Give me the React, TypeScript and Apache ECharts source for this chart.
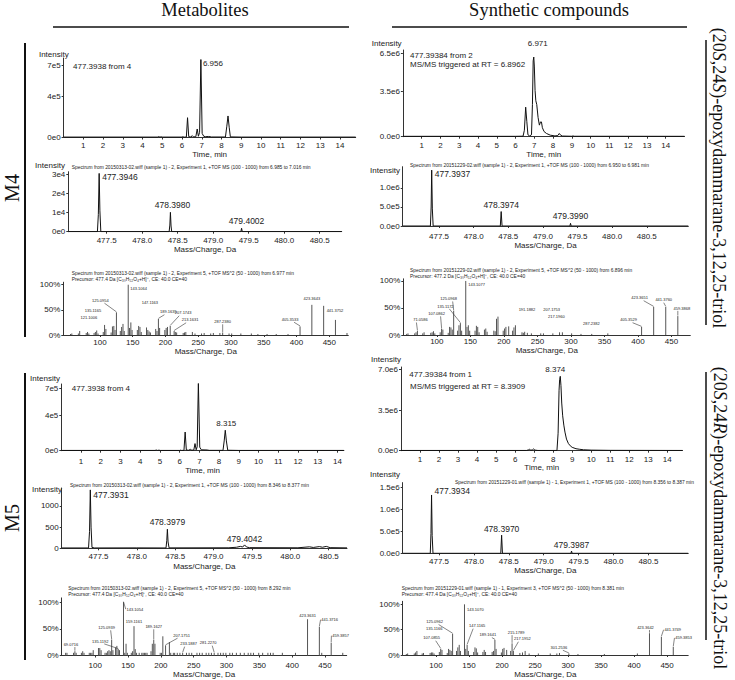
import React, { useEffect, useRef } from "react";
import * as echarts from "echarts";

const SANS = "'Liberation Sans', Arial, sans-serif";
const SERIF = "'Liberation Serif', 'Times New Roman', serif";

// ---------------- tick values / labels ----------------
const timeTicks = [1, 2, 3, 4, 5, 6, 7, 8, 9, 10, 11, 12, 13, 14];
const massTicks = [477.5, 478.0, 478.5, 479.0, 479.5, 480.0, 480.5];
const ms2Ticks = [100, 150, 200, 250, 300, 350, 400, 450];

const yTicksXicM4Met = [0, 4e5, 7e5];
const yLabelsXicM4Met = ["0e0", "4e5", "7e5"];
const yTicksXicM4Syn = [0, 3.5e6, 6.5e6];
const yLabelsXicM4Syn = ["0.0e0", "3.5e6", "6.5e6"];
const yTicksMs1M4Met = [0, 1e4, 2e4, 3e4];
const yLabelsMs1M4Met = ["0e0", "1e4", "2e4", "3e4"];
const yTicksMs1M4Syn = [0, 5e5, 1e6];
const yLabelsMs1M4Syn = ["0.0e0", "5.0e5", "1.0e6"];
const yTicksPct = [0, 50, 100];
const yLabelsPct = ["0%", "50%", "100%"];
const yTicksXicM5Met = [0, 4e5, 7e5];
const yLabelsXicM5Met = ["0e0", "4e5", "7e5"];
const yTicksXicM5Syn = [0, 3.5e6, 7e6];
const yLabelsXicM5Syn = ["0.0e0", "3.5e6", "7.0e6"];
const yTicksMs1M5Met = [0, 500, 1000];
const yLabelsMs1M5Met = ["0", "500", "1000"];
const yTicksMs1M5Syn = [0, 5e5, 1e6, 1.5e6];
const yLabelsMs1M5Syn = ["0.0e0", "5.0e5", "1.0e6", "1.5e6"];

// ---------------- extracted ion chromatograms [time, intensity] ----------------
const xicM4Metabolite = [
  [0, 4000], [4.75, 4000], [4.82, 9000], [4.88, 4000], [4.95, 7000], [5.02, 4000], [6.0, 4000], [6.05, 8000],
  [6.1, 3000], [6.22, 5000], [6.28, 193000], [6.34, 8000], [6.45, 5000], [6.52, 18000], [6.58, 6000], [6.7, 8000],
  [6.77, 83000], [6.83, 12000], [6.89, 50000], [6.956, 760000], [7.02, 40000], [7.1, 12000], [7.2, 8000],
  [7.35, 10000], [7.5, 5000], [8.2, 5000], [8.27, 110000], [8.33, 210000], [8.39, 100000], [8.45, 6000],
  [9, 4000], [14.8, 4000],
];
const xicM4MetaboliteLabels = [6.956];

const xicM4Synthetic = [
  [0, 30000], [6.0, 30000], [6.4, 40000], [6.47, 500000], [6.54, 2300000], [6.6, 1200000], [6.66, 150000],
  [6.75, 60000], [6.85, 150000], [6.9, 2500000], [6.94, 5900000], [6.971, 6200000], [7.0, 5500000],
  [7.04, 3600000], [7.08, 2800000], [7.13, 2500000], [7.2, 1500000], [7.27, 900000], [7.33, 1150000],
  [7.38, 1150000], [7.43, 700000], [7.52, 400000], [7.65, 250000], [7.85, 120000], [8.1, 60000], [8.25, 90000],
  [8.33, 250000], [8.4, 120000], [8.5, 50000], [9.0, 35000], [9.06, 60000], [9.12, 35000], [15, 30000],
];
const xicM4SyntheticLabels = [6.971];

const xicM5Metabolite = [
  [0, 3000], [4.75, 3000], [4.82, 7000], [4.88, 3000], [4.95, 6000], [5.02, 3000], [6.0, 3000], [6.05, 6000],
  [6.1, 3000], [6.22, 4000], [6.28, 210000], [6.34, 8000], [6.45, 5000], [6.55, 15000], [6.62, 5000],
  [6.72, 8000], [6.78, 80000], [6.84, 10000], [6.89, 45000], [6.95, 765000], [7.02, 40000], [7.1, 10000],
  [7.4, 8000], [7.5, 4000], [8.2, 4000], [8.26, 110000], [8.315, 230000], [8.37, 110000], [8.44, 5000],
  [9, 3000], [14.33, 3000],
];
const xicM5MetaboliteLabels = [8.315];

const xicM5Synthetic = [
  [0, 20000], [6.6, 20000], [6.7, 70000], [6.76, 120000], [6.82, 50000], [6.9, 60000], [6.97, 150000],
  [7.04, 50000], [7.2, 20000], [8.2, 20000], [8.26, 1500000], [8.31, 5200000], [8.34, 6100000],
  [8.374, 6400000], [8.41, 5600000], [8.45, 4100000], [8.5, 3000000], [8.56, 2200000], [8.62, 1600000],
  [8.7, 1000000], [8.8, 620000], [8.9, 420000], [9.0, 290000], [9.2, 170000], [9.4, 120000], [9.6, 80000],
  [10, 50000], [11, 30000], [14.8, 20000],
];
const xicM5SyntheticLabels = [8.374];

// ---------------- MS1 spectra [m/z, intensity] ----------------
const ms1M4Metabolite = [
  [476.96, 0], [477.37, 0], [477.383, 9000], [477.3946, 30700], [477.405, 11000], [477.418, 0], [478.38, 0],
  [478.39, 3500], [478.398, 10200], [478.407, 3000], [478.416, 0], [479.39, 0], [479.4002, 1800], [479.41, 0],
  [480.81, 0],
];
const ms1M4MetaboliteLabels = [477.3946, 478.398, 479.4002];

const ms1M4Synthetic = [
  [476.975, 0], [477.375, 0], [477.386, 500000], [477.3937, 1470000], [477.403, 450000], [477.415, 0],
  [478.385, 0], [478.3974, 380000], [478.41, 0], [479.39, 0], [479.399, 70000], [479.408, 0], [481.1, 0],
];
const ms1M4SyntheticLabels = [477.3937, 478.3974, 479.399];

const ms1M5Metabolite = [
  [477.02, 8], [477.37, 8], [477.383, 400], [477.3931, 1380], [477.403, 500], [477.415, 20], [477.45, 8],
  [478.0, 10], [478.38, 8], [478.39, 180], [478.3979, 450], [478.407, 150], [478.42, 10], [479.2, 12],
  [479.3, 25], [479.35, 45], [479.38, 30], [479.4042, 80], [479.43, 30], [479.47, 15], [480.1, 12],
  [480.25, 35], [480.3, 20], [480.38, 40], [480.42, 25], [480.47, 45], [480.52, 15], [480.74, 10],
];
const ms1M5MetaboliteLabels = [477.3931, 478.3979, 479.4042];

const ms1M5Synthetic = [
  [476.98, 0], [477.375, 0], [477.385, 450000], [477.3934, 1320000], [477.402, 400000], [477.414, 0],
  [478.385, 0], [478.397, 410000], [478.409, 0], [479.39, 0], [479.3987, 50000], [479.407, 0], [481.07, 0],
];
const ms1M5SyntheticLabels = [477.3934, 478.397, 479.3987];

// ---------------- MS/MS spectra [m/z, relative %] ----------------
const ms2M4Metabolite = [
  [55, 2], [57, 3], [67, 3], [69, 8], [79, 4], [81, 6], [83, 3], [91, 4], [93, 6], [95, 9], [97, 3], [105, 6],
  [107, 20], [109, 12], [117, 5], [119, 17], [121.1006, 18], [123, 10], [125.0954, 45], [131, 8], [133, 16],
  [135.1165, 22], [137, 8], [143.1064, 100], [145, 14], [147.1163, 25], [149, 10], [157, 10], [159, 18],
  [161, 16], [163, 6], [171, 15], [173, 10], [175, 7], [177, 5], [185, 12], [187, 8], [189.1635, 32], [191, 14],
  [199, 10], [201, 14], [203, 16], [207.1743, 18], [213.1631, 8], [215, 6], [217, 5], [227, 4], [229, 5],
  [231, 6], [241, 6], [245, 3], [255, 3], [259, 4], [269, 3], [273, 4], [283, 4], [287.238, 5], [297, 3],
  [301, 3], [315, 3], [331, 3], [341, 2], [355, 2], [369, 2], [387, 2], [405.3533, 17], [423.3643, 60],
  [441.3752, 58], [459.3857, 30], [477, 4],
];
const ms2M4MetaboliteLabels = [
  143.1064, 125.0954, 135.1165, 121.1006, 147.1163, 189.1635, 207.1743, 213.1631, 287.238, 405.3533, 423.3643,
  441.3752,
];

const ms2M4Synthetic = [
  [55, 2], [57, 3], [67, 3], [69, 5], [71.0586, 8], [79, 3], [81, 5], [91, 4], [93, 5], [95, 7], [97, 3],
  [105, 5], [107.0862, 12], [109, 10], [117, 4], [119, 15], [121, 14], [123, 10], [125.0968, 45], [131, 8],
  [133, 18], [135.1172, 22], [137, 8], [143.1077, 100], [145, 15], [147, 18], [149, 8], [157, 8], [159, 17],
  [161, 15], [163, 5], [171, 10], [173, 12], [175, 6], [185, 8], [187, 7], [189, 30], [191.1882, 34], [199, 8],
  [201, 12], [203, 15], [207.1753, 16], [213, 8], [215, 14], [217.196, 18], [227, 5], [229, 4], [231, 6],
  [235, 4], [241, 3], [255, 3], [259, 3], [273, 3], [283, 5], [287.2382, 5], [301, 3], [315, 2], [331, 2],
  [355, 3], [405.3529, 15], [423.3651, 52], [441.376, 52], [459.3868, 35],
];
const ms2M4SyntheticLabels = [
  143.1077, 125.0968, 135.1172, 107.0862, 71.0586, 191.1882, 207.1753, 217.196, 287.2382, 405.3529, 423.3651,
  441.376, 459.3868,
];

const ms2M5Metabolite = [
  [55, 5], [57, 5], [67, 5], [69.0716, 8], [71, 5], [79, 5], [81, 8], [83, 5], [91, 5], [93, 5], [95, 5],
  [97, 10], [105, 14], [107, 14], [109, 10], [115, 5], [117, 5], [119, 8], [121, 10], [123, 8],
  [125.0939, 30], [127, 10], [131, 15], [133, 18], [135.1192, 12], [137, 10], [143.1054, 100], [145, 5],
  [147, 22], [149, 5], [155, 5], [157, 8], [159.1161, 55], [161, 12], [163, 5], [167, 5], [171, 5], [173, 5],
  [175, 5], [177, 5], [179, 5], [185, 8], [187, 22], [189.1627, 30], [191, 22], [199, 5], [201, 5], [203, 36],
  [207.1751, 19], [213, 25], [215, 5], [219, 5], [221, 5], [225, 5], [229, 5], [233.1887, 5], [239, 5],
  [243, 5], [247, 5], [255, 5], [259, 5], [263, 5], [269, 5], [273, 5], [277, 5], [281.227, 5], [287, 5],
  [291, 5], [295, 5], [299, 5], [305, 5], [309, 5], [315, 5], [321, 5], [327, 5], [333, 5], [337, 5],
  [341, 5], [349, 5], [355, 5], [363, 5], [367, 5], [371, 5], [385, 5], [405, 5], [423.3631, 68],
  [441.3716, 54], [445, 5], [459.3857, 24], [477, 5],
];
const ms2M5MetaboliteLabels = [
  143.1054, 159.1161, 189.1627, 125.0939, 135.1192, 69.0716, 207.1751, 233.1887, 281.227, 423.3631, 441.3716,
  459.3857,
];

const ms2M5Synthetic = [
  [55, 2], [57, 3], [67, 3], [69, 5], [71, 8], [79, 3], [81, 4], [91, 4], [93, 5], [95, 5], [97, 3], [105, 6],
  [107.0855, 12], [109, 10], [117, 4], [119, 12], [121, 10], [123, 8], [125.0962, 42], [131, 8], [133, 15],
  [135.1166, 20], [137, 8], [143.107, 100], [145, 12], [147.1165, 20], [149, 8], [157, 6], [159, 15],
  [161, 13], [163, 5], [171, 6], [173, 10], [175, 6], [185, 6], [187, 8], [189.1641, 30], [191, 12], [199, 5],
  [201, 12], [203, 14], [207, 10], [213, 8], [215.1789, 23], [217.1952, 8], [227, 4], [231, 5], [235, 8],
  [241, 3], [255, 3], [273, 3], [283, 3], [287, 4], [301.2536, 3], [315, 2], [355, 2], [405, 3],
  [423.3642, 43], [441.3749, 36], [459.3853, 16],
];
const ms2M5SyntheticLabels = [
  143.107, 125.0962, 135.1166, 107.0855, 147.1165, 189.1641, 215.1789, 217.1952, 301.2536, 423.3642, 441.3749,
  459.3853,
];

// ---------------- layout (positions / styles only) ----------------
type LL = [number, number, string?];
type Panel = {
  box: [number, number, number, number];
  x: [number, number];
  yMax: number;
  xTicks: number[];
  xFmt: (v: number) => string;
  yTicks: number[];
  yLabels: string[];
  xName: string;
  xMargin: number;
  nameGap: number;
  line?: number[][];
  sticks?: number[][];
  labels: number[];
  labelDigits: number;
  labelLayout: LL[];
  labelSize: number;
  leader: boolean;
};

const fmtInt = (v: number) => String(Math.round(v));
const fmtMass = (v: number) => v.toFixed(1);

const panels: Panel[] = [
  {
    box: [63.6, 58, 292.1, 79.5], x: [0, 14.8], yMax: 7.75e5, xTicks: timeTicks, xFmt: fmtInt,
    yTicks: yTicksXicM4Met, yLabels: yLabelsXicM4Met, xName: "Time, min", xMargin: 4, nameGap: 13,
    line: xicM4Metabolite, labels: xicM4MetaboliteLabels, labelDigits: 3, labelLayout: [[2, 4, "left"]],
    labelSize: 8, leader: false,
  },
  {
    box: [402.9, 50, 281.6, 86.7], x: [0, 15], yMax: 6.75e6, xTicks: timeTicks, xFmt: fmtInt,
    yTicks: yTicksXicM4Syn, yLabels: yLabelsXicM4Syn, xName: "Time, min", xMargin: 5, nameGap: 10,
    line: xicM4Synthetic, labels: xicM4SyntheticLabels, labelDigits: 3, labelLayout: [[4, -14]],
    labelSize: 8, leader: false,
  },
  {
    box: [68.3, 171.7, 273.4, 60], x: [476.96, 480.81], yMax: 3.16e4, xTicks: massTicks, xFmt: fmtMass,
    yTicks: yTicksMs1M4Met, yLabels: yLabelsMs1M4Met, xName: "Mass/Charge, Da", xMargin: 5, nameGap: 14,
    line: ms1M4Metabolite, labels: ms1M4MetaboliteLabels, labelDigits: 4,
    labelLayout: [[3, 4, "left"], [2, -7], [5, -7]], labelSize: 8.5, leader: false,
  },
  {
    box: [402.7, 166.7, 285.6, 59.3], x: [476.975, 481.1], yMax: 1.56e6, xTicks: massTicks, xFmt: fmtMass,
    yTicks: yTicksMs1M4Syn, yLabels: yLabelsMs1M4Syn, xName: "Mass/Charge, Da", xMargin: 6.5, nameGap: 14,
    line: ms1M4Synthetic, labels: ms1M4SyntheticLabels, labelDigits: 4,
    labelLayout: [[3, 4, "left"], [0, -7], [0, -7]], labelSize: 8.5, leader: false,
  },
  {
    box: [63.3, 282.2, 285, 52.8], x: [44, 479], yMax: 105, xTicks: ms2Ticks, xFmt: fmtInt,
    yTicks: yTicksPct, yLabels: yLabelsPct, xName: "Mass/Charge, Da", xMargin: 3.3, nameGap: 12,
    sticks: ms2M4Metabolite, labels: ms2M4MetaboliteLabels, labelDigits: 4,
    labelLayout: [
      [2, 4, "left"], [-16, -12], [-30, -13], [-25, -8], [19, -20], [10, -7], [13, -13], [16, -11], [0, -11],
      [-10, -7], [0, -6], [3, 5, "left"],
    ],
    labelSize: 4, leader: true,
  },
  {
    box: [403.3, 278.8, 287, 56.2], x: [50, 478], yMax: 104, xTicks: ms2Ticks, xFmt: fmtInt,
    yTicks: yTicksPct, yLabels: yLabelsPct, xName: "Mass/Charge, Da", xMargin: 2.7, nameGap: 11,
    sticks: ms2M4Synthetic, labels: ms2M4SyntheticLabels, labelDigits: 4,
    labelLayout: [
      [2.6, 4, "left"], [-5, -12], [-15, -17], [-5, -15], [3, -11], [29, -7], [43, -17], [41, -9], [29, -9],
      [-13, -7], [-14, -9], [-2, -7], [4, -8],
    ],
    labelSize: 4, leader: true,
  },
  {
    box: [61.3, 384, 282.6, 66.7], x: [0, 14.33], yMax: 7.5e5, xTicks: timeTicks, xFmt: fmtInt,
    yTicks: yTicksXicM5Met, yLabels: yLabelsXicM5Met, xName: "Time, min", xMargin: 7, nameGap: 11,
    line: xicM5Metabolite, labels: xicM5MetaboliteLabels, labelDigits: 3, labelLayout: [[1, -7]],
    labelSize: 8, leader: false,
  },
  {
    box: [401, 367, 281.5, 83.7], x: [0, 14.8], yMax: 7.2e6, xTicks: timeTicks, xFmt: fmtInt,
    yTicks: yTicksXicM5Syn, yLabels: yLabelsXicM5Syn, xName: "Time, min", xMargin: 4.3, nameGap: 10,
    line: xicM5Synthetic, labels: xicM5SyntheticLabels, labelDigits: 3, labelLayout: [[-5, -7]],
    labelSize: 8, leader: false,
  },
  {
    box: [61.7, 488, 285.3, 60.3], x: [477.02, 480.74], yMax: 1425, xTicks: massTicks, xFmt: fmtMass,
    yTicks: yTicksMs1M5Met, yLabels: yLabelsMs1M5Met, xName: "Mass/Charge, Da", xMargin: 4.4, nameGap: 14,
    line: ms1M5Metabolite, labels: ms1M5MetaboliteLabels, labelDigits: 4,
    labelLayout: [[3, 5, "left"], [0, -7], [0, -6]], labelSize: 8.5, leader: false,
  },
  {
    box: [402.7, 482.6, 285.5, 70.7], x: [476.98, 481.07], yMax: 1.6e6, xTicks: massTicks, xFmt: fmtMass,
    yTicks: yTicksMs1M5Syn, yLabels: yLabelsMs1M5Syn, xName: "Mass/Charge, Da", xMargin: 4.4, nameGap: 13,
    line: ms1M5Synthetic, labels: ms1M5SyntheticLabels, labelDigits: 4,
    labelLayout: [[3, -4, "left"], [0, -6], [0, -6]], labelSize: 8.5, leader: false,
  },
  {
    box: [61.7, 597.9, 285, 57.6], x: [49, 483], yMax: 108, xTicks: ms2Ticks, xFmt: fmtInt,
    yTicks: yTicksPct, yLabels: yLabelsPct, xName: "Mass/Charge, Da", xMargin: 5.5, nameGap: 15,
    sticks: ms2M5Metabolite, labels: ms2M5MetaboliteLabels, labelDigits: 4,
    labelLayout: [
      [3, 7, "left"], [0, -5], [0, -13], [-5, -12], [-18, -8], [-4, -7], [16, -10], [6, -9], [-6, -10],
      [0, -4], [2, -7, "left"], [1, -7, "left"],
    ],
    labelSize: 4, leader: true,
  },
  {
    box: [402.7, 601.3, 285.5, 53.7], x: [49.5, 482], yMax: 106, xTicks: ms2Ticks, xFmt: fmtInt,
    yTicks: yTicksPct, yLabels: yLabelsPct, xName: "Mass/Charge, Da", xMargin: 6, nameGap: 15.5,
    sticks: ms2M5Synthetic, labels: ms2M5SyntheticLabels, labelDigits: 4,
    labelLayout: [
      [2.5, 5, "left"], [-18, -12], [-25, -16], [-9, -11], [10, -19], [-7, -5], [4, -11], [9, -12], [-10, -6],
      [-4, -6], [3, -7, "left"], [2, -9, "left"],
    ],
    labelSize: 4, leader: true,
  },
];

const spectrumHeaders: { lines: string[]; x: number; y: number }[] = [
  { lines: ["Spectrum from 20150313-02.wiff (sample 1) - 2, Experiment 1, +TOF MS (100 - 1000) from 6.985 to 7.016 min"], x: 71.7, y: 167.3 },
  { lines: ["Spectrum from 20151229-02.wiff (sample 1) - 2, Experiment 1, +TOF MS (100 - 1000) from 6.950 to 6.981 min"], x: 410, y: 165 },
  { lines: ["Spectrum from 20150313-02.wiff (sample 1) - 2, Experiment 5, +TOF MS^2 (50 - 1000) from 6.977 min", "Precursor: 477.4 Da [C₃₀H₅₂O₄+H]⁺, CE: 40.0 CE=40"], x: 71.7, y: 273.3 },
  { lines: ["Spectrum from 20151229-02.wiff (sample 1) - 2, Experiment 5, +TOF MS^2 (50 - 1000) from 6.896 min", "Precursor: 477.2 Da [C₃₀H₅₂O₄+H]⁺, CE: 40.0 CE=40"], x: 410, y: 270.7 },
  { lines: ["Spectrum from 20150313-02.wiff (sample 1) - 2, Experiment 1, +TOF MS (100 - 1000) from 8.346 to 8.377 min"], x: 70, y: 485 },
  { lines: ["Spectrum from 20151229-01.wiff (sample 1) - 1, Experiment 1, +TOF MS (100 - 1000) from 8.356 to 8.387 min"], x: 455, y: 482.7 },
  { lines: ["Spectrum from 20150313-02.wiff (sample 1) - 2, Experiment 5, +TOF MS^2 (50 - 1000) from 8.292 min", "Precursor: 477.4 Da [C₃₀H₅₂O₄+H]⁺, CE: 40.0 CE=40"], x: 68.3, y: 588.3 },
  { lines: ["Spectrum from 20151229-01.wiff (sample 1) - 1, Experiment 3, +TOF MS^2 (50 - 1000) from 8.381 min", "Precursor: 477.4 Da [C₃₀H₅₂O₄+H]⁺, CE: 40.0 CE=40"], x: 401.7, y: 588.3 },
];

const annotations: { text: string; x: number; y: number }[] = [
  { text: "477.3938 from 4", x: 73, y: 66 },
  { text: "477.39384 from 2", x: 410, y: 55 },
  { text: "MS/MS triggered at RT = 6.8962", x: 410, y: 64.5 },
  { text: "477.3938 from 4", x: 71.7, y: 388.3 },
  { text: "477.39384 from 1", x: 409.3, y: 374.3 },
  { text: "MS/MS triggered at RT = 8.3909", x: 410, y: 386.7 },
];

const intensityTitles: [number, number][] = [
  [53.8, 54], [386.7, 43.3], [50, 165.7], [385, 170], [45, 378.3], [386, 359.3], [47, 489], [385, 474.3],
];

function nearest(arr: number[][], v: number) {
  let best = arr[0];
  for (const p of arr) if (Math.abs(p[0] - v) < Math.abs(best[0] - v)) best = p;
  return best;
}

function tt(text: string, x: number, y: number, size: number, extra: any = {}) {
  const align = extra.align || "left";
  const va = extra.verticalAlign || "middle";
  return {
    type: "text",
    x,
    y,
    rotation: extra.rotation || 0,
    silent: true,
    style: {
      text,
      fontSize: size,
      fontFamily: extra.fontFamily || SANS,
      fill: extra.fill || "#222",
      align,
      verticalAlign: va,
      textAlign: align,
      textVerticalAlign: va,
      rich: extra.rich,
    },
  };
}

function buildOption() {
  const grid: any[] = [];
  const xAxis: any[] = [];
  const yAxis: any[] = [];
  const series: any[] = [];

  panels.forEach((p, i) => {
    grid.push({ left: p.box[0], top: p.box[1], width: p.box[2], height: p.box[3], containLabel: false });
    xAxis.push({
      type: "value",
      gridIndex: i,
      min: p.x[0],
      max: p.x[1],
      axisLine: { onZero: false, lineStyle: { color: "#333", width: 1 } },
      axisTick: { show: true, length: 2, customValues: p.xTicks, lineStyle: { color: "#333" } },
      axisLabel: {
        customValues: p.xTicks,
        formatter: (v: number) => p.xFmt(v),
        fontSize: 8,
        fontFamily: SANS,
        color: "#222",
        margin: p.xMargin,
      },
      splitLine: { show: false },
      name: p.xName,
      nameLocation: "middle",
      nameGap: p.nameGap,
      nameTextStyle: { fontSize: 8, fontFamily: SANS, color: "#222" },
    });
    yAxis.push({
      type: "value",
      gridIndex: i,
      min: 0,
      max: p.yMax,
      axisLine: { show: true, onZero: false, lineStyle: { color: "#333", width: 1 } },
      axisTick: { show: true, length: 2, customValues: p.yTicks, lineStyle: { color: "#333" } },
      axisLabel: {
        customValues: p.yTicks,
        formatter: (v: number) => {
          let k = 0;
          p.yTicks.forEach((t, j) => {
            if (Math.abs(t - v) < Math.abs(p.yTicks[k] - v)) k = j;
          });
          return p.yLabels[k];
        },
        fontSize: 8,
        fontFamily: SANS,
        color: "#222",
        margin: 3,
      },
      splitLine: { show: false },
    });

    if (p.line) {
      series.push({
        type: "line",
        xAxisIndex: i,
        yAxisIndex: i,
        data: p.line,
        symbol: "none",
        showSymbol: false,
        silent: true,
        lineStyle: { color: "#111", width: 1 },
        z: 3,
      });
    }
    if (p.sticks) {
      series.push({
        type: "custom",
        xAxisIndex: i,
        yAxisIndex: i,
        data: p.sticks,
        silent: true,
        z: 3,
        renderItem: (_params: any, api: any) => {
          const x = api.value(0);
          const y = api.value(1);
          const a = api.coord([x, 0]);
          const b = api.coord([x, y]);
          return {
            type: "line",
            shape: { x1: a[0], y1: a[1], x2: b[0], y2: b[1] },
            style: { stroke: "#555", lineWidth: 1 },
          };
        },
      });
    }
    const src = (p.line || p.sticks) as number[][];
    const labData = p.labels.map((v) => [v, nearest(src, v)[1]]);
    series.push({
      type: "custom",
      xAxisIndex: i,
      yAxisIndex: i,
      data: labData,
      silent: true,
      clip: false,
      z: 5,
      renderItem: (params: any, api: any) => {
        const idx = params.dataIndex;
        const v = p.labels[idx];
        const pt = api.coord([api.value(0), Math.min(api.value(1), p.yMax)]);
        const lay = p.labelLayout[idx] || [0, -5];
        const dx = lay[0];
        const dy = lay[1];
        const align = lay[2] || "center";
        const tx = pt[0] + dx;
        const ty = pt[1] + dy;
        const children: any[] = [
          {
            type: "text",
            x: tx,
            y: ty,
            style: {
              text: v.toFixed(p.labelDigits),
              fontSize: p.labelSize,
              fontFamily: SANS,
              fill: "#222",
              align,
              verticalAlign: "middle",
              textAlign: align,
              textVerticalAlign: "middle",
            },
          },
        ];
        const dist = Math.hypot(dx, dy);
        if (p.leader && dist > 6.5 && dist < 26) {
          const ex = align === "left" ? tx - 0.8 : tx + (dx > 0 ? -4 : dx < -3 ? 4 : 0);
          const ey = align === "left" ? ty : ty + p.labelSize * 0.7;
          children.push({
            type: "line",
            shape: { x1: pt[0], y1: pt[1] - 0.5, x2: ex, y2: ey },
            style: { stroke: "#333", lineWidth: 0.6 },
          });
        }
        return { type: "group", children };
      },
    });
  });

  const graphic: any[] = [];
  graphic.push(tt("Metabolites", 205, 10, 18.5, { align: "center", fontFamily: SERIF, fill: "#111" }));
  graphic.push(tt("Synthetic compounds", 549, 10, 18.5, { align: "center", fontFamily: SERIF, fill: "#111" }));
  const lines: [number, number, number, number, number][] = [
    [53, 27, 349, 27, 1.5],
    [392, 27, 687, 27, 1.5],
    [25, 43, 25, 337, 2],
    [25, 373, 25, 660, 2],
    [706, 40, 706, 325, 1.5],
    [706, 372, 706, 640, 1.5],
  ];
  lines.forEach(([x1, y1, x2, y2, w]) =>
    graphic.push({ type: "line", silent: true, shape: { x1, y1, x2, y2 }, style: { stroke: "#111", lineWidth: w } })
  );
  graphic.push(tt("M4", 12, 188, 20, { align: "center", fontFamily: SERIF, fill: "#111", rotation: Math.PI / 2 }));
  graphic.push(tt("M5", 12, 518, 20, { align: "center", fontFamily: SERIF, fill: "#111", rotation: Math.PI / 2 }));
  const richI = { i: { fontStyle: "italic", fontSize: 18, fontFamily: SERIF, fill: "#111" } };
  graphic.push(
    tt("(20{i|S},24{i|S})-epoxydammarane-3,12,25-triol", 719, 178, 18, {
      align: "center", fontFamily: SERIF, fill: "#111", rotation: -Math.PI / 2, rich: richI,
    })
  );
  graphic.push(
    tt("(20{i|S},24{i|R})-epoxydammarane-3,12,25-triol", 720, 518, 18, {
      align: "center", fontFamily: SERIF, fill: "#111", rotation: -Math.PI / 2, rich: richI,
    })
  );
  intensityTitles.forEach(([x, y]) => graphic.push(tt("Intensity", x, y, 8, { align: "center" })));
  annotations.forEach((a) => graphic.push(tt(a.text, a.x, a.y, 8)));
  spectrumHeaders.forEach((h) =>
    h.lines.forEach((l, k) => graphic.push(tt(l, h.x, h.y + k * 5.8, 4.9)))
  );

  return {
    animation: false,
    backgroundColor: "#fff",
    textStyle: { fontFamily: SANS },
    grid,
    xAxis,
    yAxis,
    series,
    graphic,
  };
}

export default function App() {
  const ref = useRef<HTMLDivElement>(null);
  useEffect(() => {
    if (!ref.current) return;
    const chart = echarts.init(ref.current, undefined, { renderer: "svg" });
    chart.setOption(buildOption() as any);
    return () => chart.dispose();
  }, []);
  return (
    <div
      ref={ref}
      style={{ position: "absolute", left: 0, top: 0, width: 735, height: 680, background: "#fff" }}
    />
  );
}
